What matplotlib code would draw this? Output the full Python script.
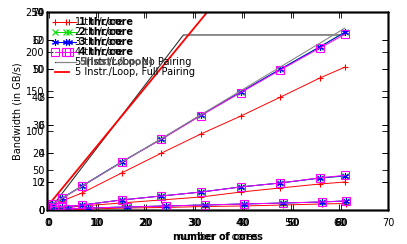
import matplotlib.pyplot as plt

plt.rcParams['font.family'] = 'DejaVu Sans'
plt.rcParams['font.size'] = 7

# number of cores
cores = [1, 2, 4, 8, 16, 24, 32, 40, 48, 56, 61]

# top group (GB/s, 0-70 scale)
top_1 = [0.7, 1.4, 3.2, 6.0, 13.1, 20.1, 26.9, 33.2, 39.9, 46.7, 50.5]
top_2 = [1.1, 2.1, 4.2, 8.5, 17.0, 25.1, 33.6, 41.7, 49.8, 57.8, 62.9]
top_3 = [1.1, 2.1, 4.2, 8.5, 17.0, 25.1, 33.6, 41.7, 49.8, 57.7, 62.8]
top_4 = [1.1, 2.1, 4.1, 8.4, 16.9, 25.0, 33.4, 41.5, 49.5, 57.3, 62.1]
top_ref = [1.0, 64.3]
top_ref_x = [1, 61]

# middle group (0-14 scale)
mid_1 = [0.04, 0.07, 0.14, 0.28, 0.50, 0.71, 0.92, 1.27, 1.56, 1.84, 1.98]
mid_2 = [0.07, 0.14, 0.20, 0.35, 0.71, 0.99, 1.27, 1.63, 1.91, 2.26, 2.40]
mid_3 = [0.07, 0.14, 0.20, 0.35, 0.71, 0.99, 1.27, 1.63, 1.91, 2.26, 2.42]
mid_4 = [0.07, 0.14, 0.20, 0.35, 0.71, 0.99, 1.27, 1.63, 1.91, 2.28, 2.45]

# bottom group (0-250 scale)
low_1 = [0.2, 0.3, 0.6, 1.3, 2.5, 3.2, 4.4, 5.1, 6.3, 7.6, 8.2]
low_2 = [0.3, 0.6, 1.3, 2.5, 3.8, 5.1, 6.3, 7.6, 8.8, 10.1, 11.4]
low_3 = [0.3, 0.6, 1.3, 2.5, 3.8, 5.1, 6.3, 7.6, 8.8, 10.1, 11.4]
low_4 = [0.3, 0.6, 1.3, 2.5, 3.8, 5.1, 6.3, 7.6, 8.8, 10.2, 11.6]

# model lines (0-250 scale)
nopair_x = [1, 28, 61]
nopair_y = [4, 221, 221]
fullpair_x = [0, 61]
fullpair_y = [4, 460]

labels = ['1 thr/core', '2 thr/core', '3 thr/core', '4 thr/core']
colors = ['#ff0000', '#00dd00', '#0000ff', '#ff00ff']
markers = ['+', 'x', (6, 2, 0), 's']

fig = plt.figure(figsize=(4.07, 2.44), dpi=100)
pos = [47 / 407, 34 / 244, 341 / 407, 198 / 244]


def style(ax, xt=True):
    ax.tick_params(direction='in', length=4, width=0.6, top=xt, right=True,
                   bottom=xt, pad=2, labelsize=7)
    ax.tick_params(axis='x', pad=6)
    ax.patch.set_alpha(0)
    for s in ax.spines.values():
        s.set_linewidth(1.0)


ax1 = fig.add_axes(pos)
ax1.set_xlim(0, 70)
ax1.set_ylim(0, 250)
ax1.set_yticks(range(0, 251, 50))
ax1.set_xticks(range(0, 71, 10))
style(ax1)
ax1.set_ylabel('Bandwidth (in GB/s)', fontsize=7, labelpad=2)
ax1.set_xlabel('number of cores', fontsize=7, labelpad=3)

ax2 = fig.add_axes(pos)
ax2.set_xlim(0.95, 69.7)
ax2.set_ylim(0, 70)
ax2.set_yticks(range(0, 71, 10))
ax2.set_xticks([])
style(ax2, xt=False)

ax3 = fig.add_axes(pos)
ax3.set_xlim(0.95, 69.7)
ax3.set_ylim(0, 14)
ax3.set_yticks(range(0, 15, 2))
ax3.set_xticks([])
style(ax3, xt=False)

ax4 = fig.add_axes(pos)
ax4.set_xlim(-0.4, 69.6)
ax4.set_ylim(0, 250)
ax4.set_xticks(range(0, 61, 10))
ax4.set_yticks([])
style(ax4)
for t in ax4.get_xticklabels():
    t.set_fontweight('bold')
ax4.set_xlabel('number of cores', fontsize=7, fontweight='bold', labelpad=3)

handles = []
for series, ax in [([top_1, top_2, top_3, top_4], ax2),
                   ([mid_1, mid_2, mid_3, mid_4], ax3),
                   ([low_1, low_2, low_3, low_4], ax4)]:
    hs = []
    for y, lab, c, m in zip(series, labels, colors, markers):
        h, = ax.plot(cores, y, color=c, marker=m, ms=5.5 if m == 's' else 5,
                     mfc='none', mew=0.8, lw=0.7, label=lab)
        hs.append(h)
    handles.append(hs)

ref, = ax2.plot(top_ref_x, top_ref, color='#888888', lw=0.8)
npl, = ax1.plot(nopair_x, nopair_y, color='#333333', lw=0.8)
fpl, = ax1.plot(fullpair_x, fullpair_y, color='#ff0000', lw=1.3)

leg1 = ax1.legend(handles[0] + [npl, fpl],
                  labels + ['5 Instr./Loop, No Pairing', '5 Instr./Loop, Full Pairing'],
                  loc='upper left', bbox_to_anchor=(0.0, 1.0), frameon=False,
                  fontsize=7, handlelength=2.0, handletextpad=0.3,
                  labelspacing=0.0, borderaxespad=0.15, numpoints=2)
leg2 = ax4.legend(handles[2] + [ref],
                  labels + ['5(Instr./Loop)'],
                  loc='upper left', bbox_to_anchor=(0.012, 1.0), frameon=False,
                  prop={'size': 7, 'weight': 'bold'}, handlelength=2.0,
                  handletextpad=0.3, labelspacing=0.0, borderaxespad=0.15,
                  numpoints=1)
leg2.get_texts()[4].set_color('#555555')

fig.savefig('out.png', dpi=100)
